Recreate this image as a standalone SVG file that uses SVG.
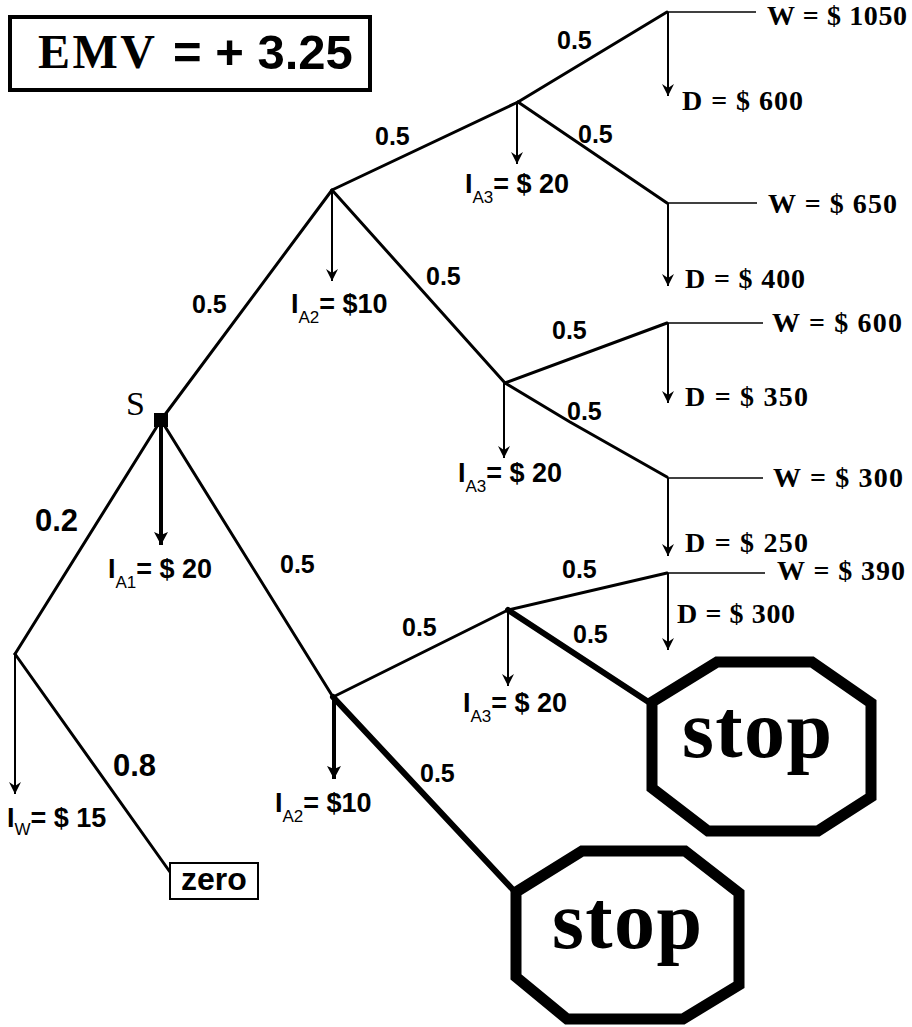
<svg xmlns="http://www.w3.org/2000/svg" width="912" height="1027" viewBox="0 0 912 1027">
<style>
.e{stroke:#000;stroke-width:3;fill:none;stroke-linecap:round}
.thin{stroke:#000;stroke-width:1.6;fill:none}
.thick{stroke:#000;stroke-width:6;fill:none;stroke-linecap:round}
.arr{stroke:#000;stroke-width:2;fill:none;marker-end:url(#ah)}
.arrT{stroke:#000;stroke-width:4;fill:none;marker-end:url(#ahT)}
.p{font-family:"Liberation Sans",Arial,sans-serif;font-weight:bold;font-size:25px;fill:#000}
.big{font-family:"Liberation Sans",Arial,sans-serif;font-weight:bold;font-size:31px;fill:#000}
.wd{font-family:"Liberation Serif","Times New Roman",serif;font-weight:bold;font-size:28px;fill:#000}
.i{font-family:"Liberation Sans",Arial,sans-serif;font-weight:bold;font-size:27px;fill:#000}
.sub{font-family:"Liberation Sans",Arial,sans-serif;font-weight:normal;font-size:17px}
.oct{stroke:#000;stroke-width:11;fill:#fff;stroke-linejoin:miter}
.stop{font-family:"Liberation Serif","Times New Roman",serif;font-weight:bold;font-size:82px;fill:#000}
</style>
<defs>
<marker id="ah" markerUnits="userSpaceOnUse" markerWidth="14" markerHeight="14" refX="12" refY="6" orient="auto">
<path d="M0,0 L12,6 L0,12 L4,6 z" fill="#000"/>
</marker>
<marker id="ahT" markerUnits="userSpaceOnUse" markerWidth="16" markerHeight="16" refX="13" refY="7" orient="auto">
<path d="M0,0 L13,7 L0,14 L3,7 z" fill="#000"/>
</marker>
</defs>
<rect x="0" y="0" width="912" height="1027" fill="#fff"/>

<g id="emv">
<rect x="10" y="17" width="360" height="73" fill="#fff" stroke="#000" stroke-width="4"/>
<text x="38" y="68" font-family="Liberation Serif,'Times New Roman',serif" font-weight="bold" font-size="48" textLength="117">EMV</text>
<text x="173" y="69" font-family="Liberation Sans,Arial,sans-serif" font-weight="bold" font-size="49">= + 3.25</text>
</g>

<g id="connectors">
<line class="e" x1="161" y1="420" x2="332" y2="190"/>
<line class="e" x1="332" y1="190" x2="518" y2="102"/>
<line class="e" x1="518" y1="102" x2="667" y2="12"/>
<line class="e" x1="518" y1="102" x2="667" y2="203"/>
<line class="e" x1="332" y1="190" x2="505" y2="383"/>
<line class="e" x1="505" y1="383" x2="667" y2="323"/>
<polyline class="e" points="505,383 570,422 667,477"/>
<line class="e" x1="161" y1="420" x2="15" y2="654"/>
<line class="e" x1="15" y1="654" x2="170" y2="872"/>
<line class="e" x1="161" y1="420" x2="333" y2="697"/>
<line class="e" x1="333" y1="697" x2="508" y2="610"/>
<line class="e" x1="508" y1="610" x2="667" y2="573"/>
<line class="thick" x1="508" y1="610" x2="650" y2="703" stroke-width="5"/>
<line class="thick" x1="333" y1="697" x2="516" y2="893"/>
<line class="thin" x1="667" y1="12" x2="756" y2="12"/>
<line class="thin" x1="667" y1="203" x2="757" y2="203"/>
<line class="thin" x1="667" y1="323" x2="763" y2="323"/>
<line class="thin" x1="667" y1="478" x2="763" y2="478"/>
<line class="thin" x1="667" y1="573" x2="765" y2="573"/>
<line class="arrT" x1="161" y1="425" x2="161" y2="545"/>
<line class="arr" x1="332" y1="190" x2="332" y2="281"/>
<line class="arr" x1="517" y1="103" x2="517" y2="164"/>
<line class="arr" x1="504" y1="383" x2="504" y2="458"/>
<line class="arr" x1="508" y1="610" x2="508" y2="686"/>
<line class="arrT" x1="334" y1="697" x2="334" y2="779"/>
<line class="arr" x1="15" y1="654" x2="15" y2="794"/>
<line class="arr" x1="668" y1="12" x2="668" y2="96"/>
<line class="arr" x1="668" y1="203" x2="668" y2="286"/>
<line class="arr" x1="668" y1="323" x2="668" y2="403"/>
<line class="arr" x1="668" y1="478" x2="668" y2="556"/>
<line class="arr" x1="668" y1="573" x2="668" y2="650"/>
</g>

<g id="edge-labels">
<text class="p" x="557" y="49">0.5</text>
<text class="p" x="578" y="143">0.5</text>
<text class="p" x="375" y="145">0.5</text>
<text class="p" x="192" y="313">0.5</text>
<text class="p" x="426" y="285">0.5</text>
<text class="p" x="552" y="339">0.5</text>
<text class="p" x="567" y="420">0.5</text>
<text class="p" x="562" y="578">0.5</text>
<text class="p" x="573" y="643">0.5</text>
<text class="p" x="280" y="573">0.5</text>
<text class="p" x="402" y="636">0.5</text>
<text class="p" x="420" y="782">0.5</text>
<text class="big" x="35" y="531">0.2</text>
<text class="big" x="113" y="776">0.8</text>
</g>

<g id="node-S">
<rect x="154" y="413" width="14" height="14" fill="#000"/>
<text x="126" y="415" font-family="Liberation Serif,'Times New Roman',serif" font-size="34">S</text>
<text class="i" x="108" y="578">I<tspan class="sub" dy="10">A1</tspan><tspan dy="-10">= $ 20</tspan></text>
</g>

<g id="node-A2-top">
<text class="i" x="291" y="313">I<tspan class="sub" dy="10">A2</tspan><tspan dy="-10">= $10</tspan></text>
</g>

<g id="node-A3-top">
<text class="i" x="465" y="193">I<tspan class="sub" dy="10">A3</tspan><tspan dy="-10">= $ 20</tspan></text>
<text class="wd" x="767" y="25" textLength="140">W = $ 1050</text>
<text class="wd" x="682" y="110" textLength="121">D = $ 600</text>
<text class="wd" x="768" y="213" textLength="129">W = $ 650</text>
<text class="wd" x="685" y="288" textLength="120">D = $ 400</text>
</g>

<g id="node-A3-mid">
<text class="i" x="458" y="482">I<tspan class="sub" dy="10">A3</tspan><tspan dy="-10">= $ 20</tspan></text>
<text class="wd" x="772" y="332" textLength="130">W = $ 600</text>
<text class="wd" x="685" y="406" textLength="123">D = $ 350</text>
<text class="wd" x="773" y="487" textLength="130">W = $ 300</text>
<text class="wd" x="685" y="552" textLength="123">D = $ 250</text>
</g>

<g id="node-A2-bottom">
<text class="i" x="275" y="812">I<tspan class="sub" dy="10">A2</tspan><tspan dy="-10">= $10</tspan></text>
</g>

<g id="node-A3-bottom">
<text class="i" x="463" y="712">I<tspan class="sub" dy="10">A3</tspan><tspan dy="-10">= $ 20</tspan></text>
<text class="wd" x="777" y="580" textLength="128">W = $ 390</text>
<text class="wd" x="677" y="623" textLength="118">D = $ 300</text>
</g>

<g id="node-W">
<text class="i" x="7" y="827">I<tspan class="sub" dy="8" font-weight="bold">W</tspan><tspan dy="-8">= $ 15</tspan></text>
</g>

<g id="node-zero">
<rect x="170" y="863" width="88" height="36" fill="#fff" stroke="#000" stroke-width="2"/>
<text x="181" y="890" font-family="Liberation Sans,Arial,sans-serif" font-weight="bold" font-size="32">zero</text>
</g>

<g id="stop-1">
<polygon class="oct" points="717,662 812,662 871,703 871,797 818,831 708,831 652,788 652,702"/>
<text class="stop" x="682" y="757" textLength="150">stop</text>
</g>

<g id="stop-2">
<polygon class="oct" points="582,851 685,851 739,893 739,985 683,1019 567,1019 516,977 516,892"/>
<text class="stop" x="552" y="948" textLength="150">stop</text>
</g>
</svg>
